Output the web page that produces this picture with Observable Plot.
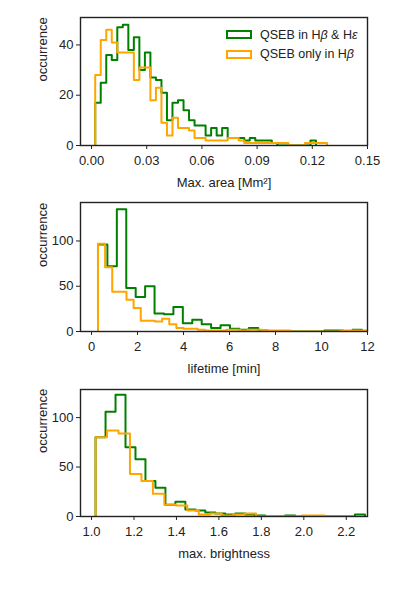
<!DOCTYPE html>
<html><head><meta charset="utf-8">
<script src="https://cdn.jsdelivr.net/npm/d3@7"></script>
<script src="https://cdn.jsdelivr.net/npm/@observablehq/plot@0.6"></script>
<style>
body{margin:0;background:#fff;font-family:"Liberation Sans",Arial,sans-serif;}
#wrap{position:relative;width:399px;height:594px;}
#wrap svg{display:block;}
.legend{position:absolute;left:226px;top:25px;font-size:12.5px;color:#222;}
.row{display:flex;align-items:center;height:19.5px;white-space:nowrap;}
.patch{width:22px;height:5px;border:2px solid;margin-right:8px;}
</style></head><body><div id="wrap"></div>
<script>
// ---- Panel 1: Max. area [Mm^2] (bin start, bin width, counts)
const areaBinStart = 0.002, areaBinWidth = 0.003;
const areaGreen  = [17,25,36,34,47,48,38,43,30,37,27,26,21,10,17,18,14,10,8,8,4,7,4,7,3,3,3,2,3,2,2,2,1,0,0,0,0,0,0,2];
const areaOrange = [28,42,46,41,37,37,37,26,31,31,18,23,9,4,11,7,7,6,3,3,2,2,2,2,3,3,2,1,1,1,1,1,1,1,1,0,0,0,1,1,1,1];
const areaTicks = [0,0.03,0.06,0.09,0.12,0.15];
// ---- Panel 2: lifetime [min]
const lifeGreenStart = 0.28, lifeGreenWidth = 0.41;
const lifeGreen  = [96,72,135,48,38,50,20,19,27,9,13,8,4,7,3,2,4,1,0,0,0,0,0,0,1,1,0,2];
const lifeOrangeStart = 0.28, lifeOrangeWidth = 0.31;
const lifeOrange = [97,71,44,44,35,26,12,12,11,14,8,4,3,3,2,1,1,1,2,2,1,2,2,1,1,1,1,0,0,0,0,0,0,0,1,1,1,1];
const lifeTicks = [0,2,4,6,8,10,12];
// ---- Panel 3: max. brightness
const brightGreenStart = 1.019, brightGreenWidth = 0.047;
const brightGreen  = [80,106,123,70,58,36,29,12,15,7,6,4,3,2,3,2,1,0,0,1,0,0,0,0,0,0,2];
const brightOrangeStart = 1.019, brightOrangeWidth = 0.054;
const brightOrange = [80,87,84,43,36,23,12,11,6,2,3,1,2,3,0,0,0,0,1,1];
const brightTicks = [1.0,1.2,1.4,1.6,1.8,2.0,2.2];

const seriesNames = ["QSEB in H<i>β</i> &amp; H<i>ε</i>", "QSEB only in H<i>β</i>"];
const seriesColors = ["green", "orange"];

function steps(start, width, counts){
  const pts = [{x:start, y:0}];
  counts.forEach((c,i)=>pts.push({x:start+i*width, y:c}));
  pts.push({x:start+counts.length*width, y:0});
  return pts;
}

function panel(o){
  return Plot.plot({
    width:399, height:o.height, marginLeft:80, marginRight:32, marginTop:o.mt, marginBottom:o.mb,
    style:{fontFamily:'"Liberation Sans", Arial, sans-serif', fontSize:"13px", color:"#222", background:"white"},
    x:{domain:o.xDomain}, y:{domain:o.yDomain},
    marks:[
      Plot.line(o.green,{x:"x", y:"y", curve:"step-after", stroke:seriesColors[0], strokeWidth:2, clip:true}),
      Plot.line(o.orange,{x:"x", y:"y", curve:"step-after", stroke:seriesColors[1], strokeWidth:2, clip:true}),
      Plot.frame({stroke:"#222", strokeWidth:1.4}),
      Plot.axisX({ticks:o.xTicks, tickFormat:o.xFormat, tickSize:4, tickPadding:6, label:null, fontSize:13}),
      Plot.axisY({ticks:o.yTicks, tickSize:4, tickPadding:3, label:null, fontSize:13}),
      Plot.text([o.xLabel],{frameAnchor:"bottom", dy:37, lineAnchor:"middle", text:d=>d, fontSize:13, fill:"#222"}),
      Plot.text(["occurrence"],{frameAnchor:"left", rotate:-90, dx:-38, lineAnchor:"middle", text:d=>d, fontSize:13, fill:"#222"})
    ]
  });
}

const wrap = document.getElementById("wrap");
wrap.append(panel({
  green: steps(areaBinStart, areaBinWidth, areaGreen),
  orange: steps(areaBinStart, areaBinWidth, areaOrange),
  xDomain:[-0.006,0.15], yDomain:[0,50.9], xTicks:areaTicks, yTicks:[0,20,40],
  xFormat:d3.format(".2f"), xLabel:"Max. area [Mm²]", height:195, mt:17, mb:50
}));
wrap.append(panel({
  green: steps(lifeGreenStart, lifeGreenWidth, lifeGreen),
  orange: steps(lifeOrangeStart, lifeOrangeWidth, lifeOrange),
  xDomain:[-0.48,12], yDomain:[0,142.5], xTicks:lifeTicks, yTicks:[0,50,100],
  xFormat:d3.format("d"), xLabel:"lifetime [min]", height:185, mt:7, mb:49
}));
wrap.append(panel({
  green: steps(brightGreenStart, brightGreenWidth, brightGreen),
  orange: steps(brightOrangeStart, brightOrangeWidth, brightOrange),
  xDomain:[0.948,2.3], yDomain:[0,128.4], xTicks:brightTicks, yTicks:[0,50,100],
  xFormat:d3.format(".1f"), xLabel:"max. brightness", height:214, mt:9, mb:78
}));

const leg = document.createElement("div");
leg.className = "legend";
leg.innerHTML = seriesNames.map((n,i)=>`<div class="row"><span class="patch" style="border-color:${seriesColors[i]}"></span><span>${n}</span></div>`).join("");
wrap.append(leg);
</script></body></html>
